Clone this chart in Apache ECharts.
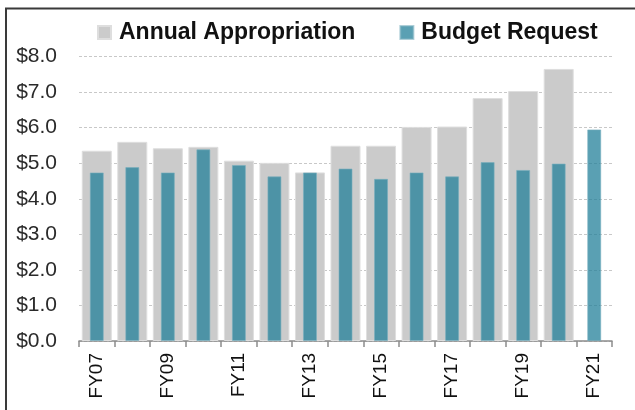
<!DOCTYPE html>
<html>
<head>
<meta charset="utf-8">
<script src="https://cdn.jsdelivr.net/npm/echarts@6/dist/echarts.min.js"></script>
<style>
html,body{margin:0;padding:0;background:#fff;}
#chart{width:635px;height:410px;}
</style>
</head>
<body>
<div id="chart"></div>
<script>
var categories = ['FY07','FY08','FY09','FY10','FY11','FY12','FY13','FY14','FY15','FY16','FY17','FY18','FY19','FY20','FY21'];
var annualAppropriation = [5.35, 5.60, 5.42, 5.46, 5.07, 5.01, 4.74, 5.49, 5.49, 6.02, 6.03, 6.83, 7.03, 7.65, null];
var budgetRequest = [4.74, 4.89, 4.74, 5.39, 4.95, 4.63, 4.74, 4.85, 4.56, 4.74, 4.63, 5.03, 4.81, 4.99, 5.95];
var yTicks = [0, 1, 2, 3, 4, 5, 6, 7, 8];

var chart = echarts.init(document.getElementById('chart'), null, {renderer: 'canvas'});
var baseFont = '"Liberation Sans", Arial, sans-serif';
chart.setOption({
  backgroundColor: '#ffffff',
  animation: false,
  graphic: [{
    type: 'rect',
    shape: {x: 6, y: 8.5, width: 700, height: 500},
    style: {fill: 'none', stroke: '#3a3a3a', lineWidth: 2},
    z: 100
  }],
  legend: {
    left: 97,
    top: 21,
    padding: 0,
    itemWidth: 13,
    itemHeight: 13,
    itemGap: 44,
    icon: 'rect',
    textStyle: {fontFamily: baseFont, fontSize: 23, fontWeight: 'bold', color: '#111', padding: [0,0,0,3]},
    data: ['Annual Appropriation', 'Budget Request']
  },
  grid: {left: 79, right: 23, top: 56.5, bottom: 69, containLabel: false},
  xAxis: [{
    type: 'category',
    data: categories,
    boundaryGap: true,
    axisLine: {lineStyle: {color: '#8c8c8c', width: 1.5}},
    axisTick: {show: true, interval: 0, length: 6, lineStyle: {color: '#8c8c8c', width: 1.5}},
    axisLabel: {interval: 1, rotate: 90, margin: 12, fontFamily: baseFont, fontSize: 19, color: '#111'},
    splitLine: {show: false}
  }, {
    type: 'category',
    data: categories,
    show: false,
    position: 'bottom'
  }],
  yAxis: {
    type: 'value',
    min: yTicks[0],
    max: yTicks[yTicks.length - 1],
    interval: 1,
    axisLine: {show: false},
    axisTick: {show: false},
    axisLabel: {margin: 22, fontFamily: baseFont, fontSize: 21, color: '#2a2a2a',
      formatter: function (v) { return '$' + v.toFixed(1); }},
    splitLine: {lineStyle: {color: '#c8c8c8', width: 1, type: [3, 2]}}
  },
  series: [{
    name: 'Annual Appropriation',
    type: 'bar',
    xAxisIndex: 0,
    data: annualAppropriation,
    barWidth: 30,
    itemStyle: {color: '#cbcbcb', borderColor: '#dedede', borderWidth: 1}
  }, {
    name: 'Budget Request',
    type: 'bar',
    xAxisIndex: 1,
    data: budgetRequest,
    barWidth: 14,
    itemStyle: {color: 'rgba(35,128,154,0.75)', borderColor: 'rgba(120,175,190,0.6)', borderWidth: 1}
  }]
});
</script>
</body>
</html>
